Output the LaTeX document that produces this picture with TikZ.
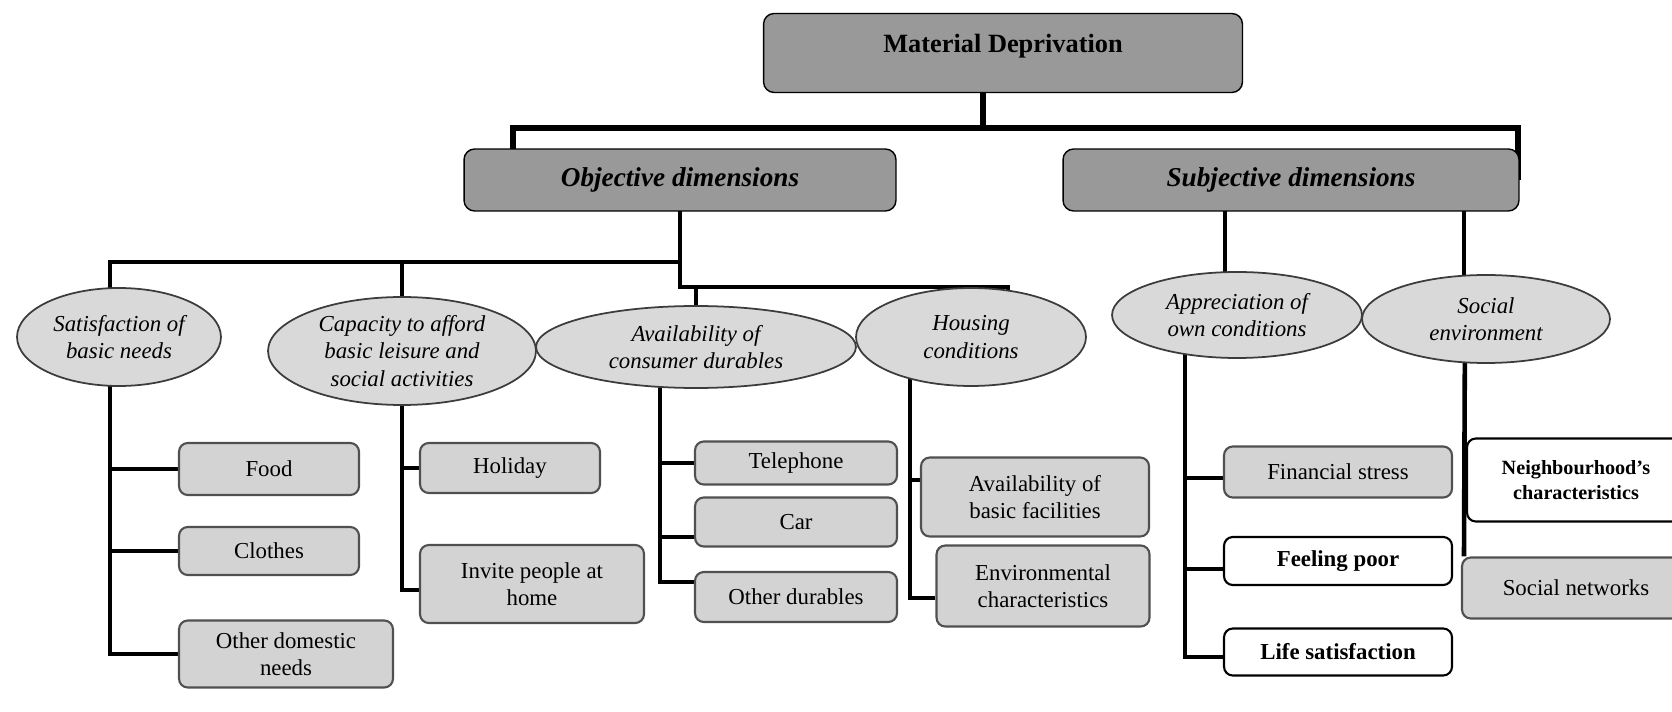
\documentclass[tikz,border=0pt]{standalone}
\usepackage{fontspec}
\setmainfont{Liberation Serif}
\usetikzlibrary{shapes.geometric,calc,backgrounds}

\definecolor{topgray}{RGB}{153,153,153}
\definecolor{itemgray}{RGB}{211,211,211}
\definecolor{ovalgray}{RGB}{217,217,217}
\definecolor{itemline}{RGB}{80,80,80}
\definecolor{ovalline}{RGB}{60,60,60}

\begin{document}
\begin{tikzpicture}[x=0.02cm, y=-0.02cm,
    topbox/.style={draw=black, line width=0.8pt, fill=topgray, rounded corners=6pt, inner sep=0pt},
    dimoval/.style={ellipse, draw=ovalline, line width=1pt, fill=ovalgray, inner sep=0pt, align=center, font=\fontsize{13pt}{15.5pt}\selectfont\itshape},
    itembox/.style={draw=itemline, line width=1.2pt, fill=itemgray, rounded corners=5pt, inner sep=0pt, align=center, font=\fontsize{13pt}{15.5pt}\selectfont},
    plainbox/.style={itembox, draw=black, fill=white, font=\fontsize{13pt}{15pt}\selectfont\bfseries},
    link/.style={line width=2.6pt},
    bus/.style={line width=3.2pt}]

\useasboundingbox (0,0) rectangle (1672,712);
\clip (0,0) rectangle (1672,712);

% Draw top of the tree
\node[topbox, minimum width=9.58cm, minimum height=1.58cm, text height=10pt, text depth=10pt, font=\fontsize{15pt}{18pt}\selectfont\bfseries] (md) at (1003,53) {Material Deprivation};
\node[topbox, minimum width=8.64cm, minimum height=1.24cm, font=\fontsize{15.5pt}{18pt}\selectfont\bfseries\itshape] (obj) at (680,180) {Objective dimensions};
\node[topbox, minimum width=9.12cm, minimum height=1.24cm, font=\fontsize{15.5pt}{18pt}\selectfont\bfseries\itshape] (subj) at (1291,180) {Subjective dimensions};

% Draw the dimension ovals
\node[dimoval, minimum width=4.08cm, minimum height=1.96cm] (sat) at (119,337) {Satisfaction of\\basic needs};
\node[dimoval, minimum width=5.36cm, minimum height=2.16cm] (cap) at (402,351) {Capacity to afford\\basic leisure and\\social activities};
\node[dimoval, minimum width=6.4cm, minimum height=1.64cm] (avail) at (696,347) {Availability of\\consumer durables};
\node[dimoval, minimum width=4.6cm, minimum height=1.96cm] (hous) at (971,337) {Housing\\conditions};
\node[dimoval, minimum width=5.0cm, minimum height=1.72cm] (apprec) at (1237,315) {Appreciation of\\own conditions};
\node[dimoval, minimum width=4.96cm, minimum height=1.76cm] (soc) at (1486,319) {Social\\environment};

% Draw the indicator boxes
\node[itembox, minimum width=3.6cm, minimum height=1.04cm] (food) at (269,469) {Food};
\node[itembox, minimum width=3.6cm, minimum height=0.96cm] (clothes) at (269,551) {Clothes};
\node[itembox, minimum width=4.28cm, minimum height=1.34cm] (odn) at (286,654) {Other domestic\\needs};
\node[itembox, minimum width=3.6cm, minimum height=1.0cm] (holiday) at (510,468) {Holiday};
\node[itembox, minimum width=4.48cm, minimum height=1.56cm] (invite) at (532,584) {Invite people at\\home};
\node[itembox, minimum width=4.04cm, minimum height=0.86cm] (tel) at (796,463) {Telephone};
\node[itembox, minimum width=4.04cm, minimum height=0.98cm] (car) at (796,522) {Car};
\node[itembox, minimum width=4.04cm, minimum height=1.0cm] (othd) at (796,597) {Other durables};
\node[itembox, minimum width=4.56cm, minimum height=1.58cm] (facil) at (1035,497) {Availability of\\basic facilities};
\node[itembox, minimum width=4.26cm, minimum height=1.62cm] (envir) at (1043,586) {Environmental\\characteristics};
\node[itembox, minimum width=4.56cm, minimum height=1.02cm] (fin) at (1338,472) {Financial stress};
\node[plainbox, minimum width=4.56cm, minimum height=0.96cm] (poor) at (1338,561) {Feeling poor};
\node[plainbox, minimum width=4.56cm, minimum height=0.94cm] (life) at (1338,652) {Life satisfaction};
\node[plainbox, minimum width=4.36cm, minimum height=1.66cm, font=\fontsize{11.5pt}{14pt}\selectfont\bfseries] (neigh) at (1576,480) {Neighbourhood's\\characteristics};
\node[itembox, minimum width=4.56cm, minimum height=1.22cm] (socnet) at (1576,588) {Social networks};

% Draw the connectors behind the shapes
\begin{scope}[on background layer]
\draw[bus] ($(md.center)+(-20,0)$) -- ++(0,75) -| ($(obj.center)+(-167,0)$);
\draw[bus] ($(md.center)+(-20,0)$) -- ++(0,75) -| ($(subj.center)+(227,0)$);

\draw[link] (obj.center) -- ++(0,82) -| ($(sat.center)+(-9,0)$);
\draw[link] (obj.center) -- ++(0,82) -| (cap.center);
\draw[link] (obj.center) -- ++(0,107) -| (avail.center);
\draw[link] (obj.center) -- ++(0,107) -| ($(hous.center)+(37,0)$);
\draw[link] ($(apprec.center)+(-12,0)$) -- ($(subj.center)+(-66,0)$);
\draw[link] ($(soc.center)+(-22,0)$) -- ($(subj.center)+(173,0)$);

\draw[link] ($(sat.center)+(-9,0)$) |- (food.west);
\draw[link] ($(sat.center)+(-9,0)$) |- (clothes.west);
\draw[link] ($(sat.center)+(-9,0)$) |- (odn.west);
\draw[link] (cap.center) |- (holiday.west);
\draw[link] (cap.center) |- ($(invite.west)+(0,6)$);
\draw[link] ($(avail.center)+(-36,0)$) |- (tel.west);
\draw[link] ($(avail.center)+(-36,0)$) |- ($(car.west)+(0,15)$);
\draw[link] ($(avail.center)+(-36,0)$) |- ($(othd.west)+(0,-15)$);
\draw[link] ($(hous.center)+(-61,0)$) |- ($(facil.west)+(0,-17)$);
\draw[link] ($(hous.center)+(-61,0)$) |- ($(envir.west)+(0,12)$);
\draw[link] ($(apprec.center)+(-52,0)$) |- ($(fin.west)+(0,6)$);
\draw[link] ($(apprec.center)+(-52,0)$) |- ($(poor.west)+(0,8)$);
\draw[link] ($(apprec.center)+(-52,0)$) |- ($(life.west)+(0,5)$);
\draw[link] ($(soc.center)+(-21,0)$) -- ($(socnet.north west)+(3,0)$);
\end{scope}

\end{tikzpicture}
\end{document}
